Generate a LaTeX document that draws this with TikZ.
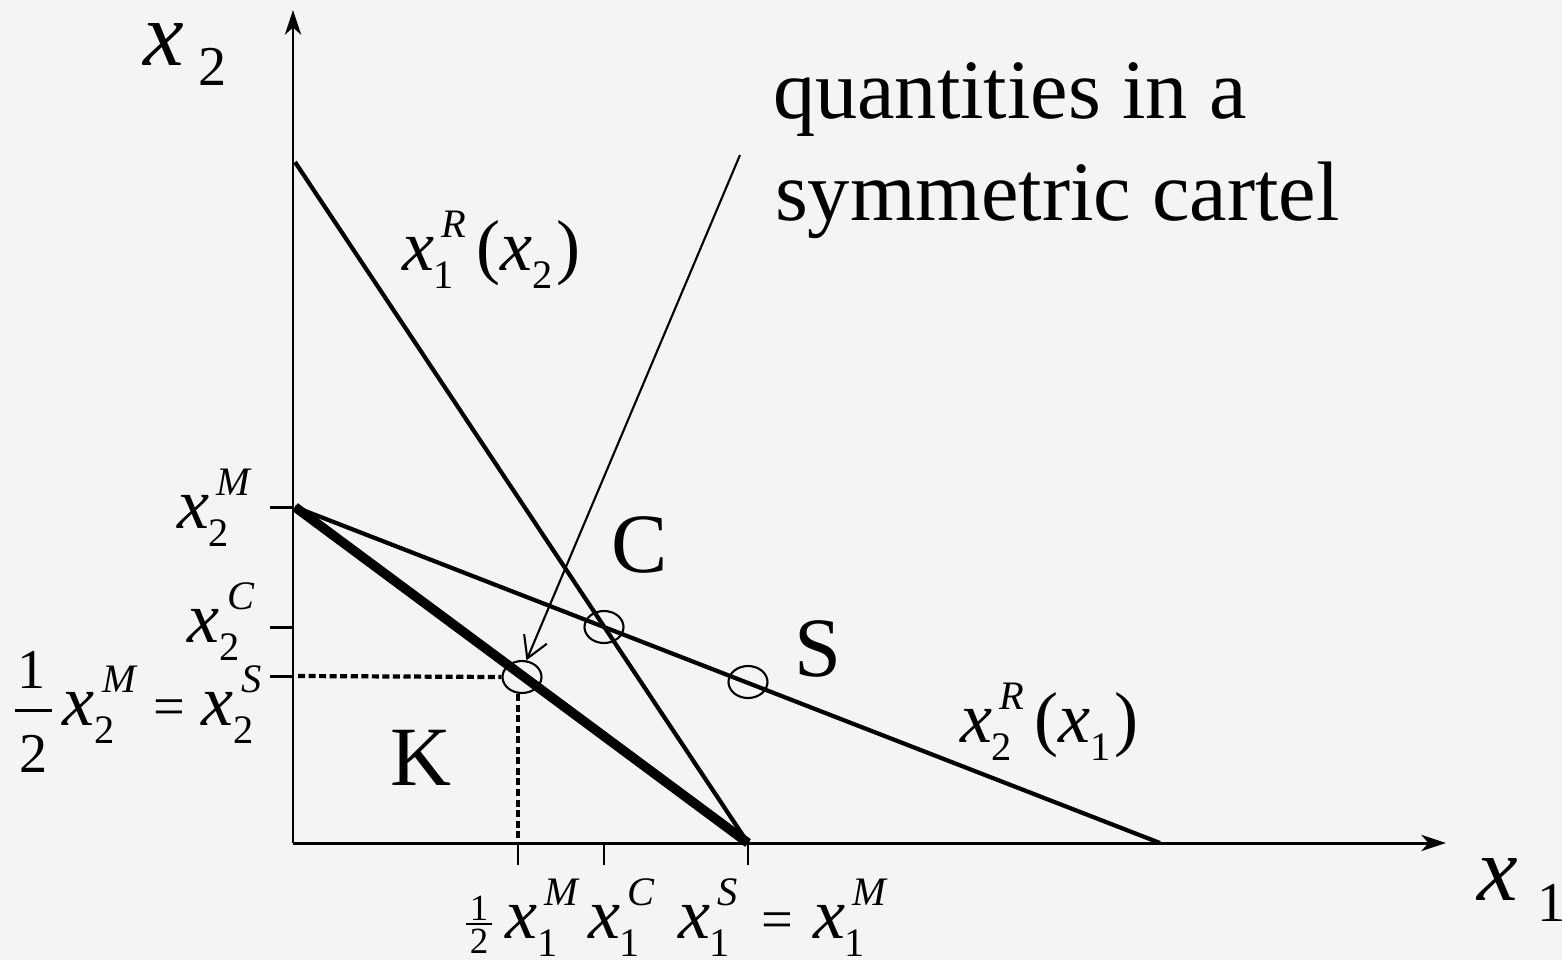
\documentclass[tikz,border=0pt]{standalone}
\usepackage{fontspec}
\setmainfont{Liberation Serif}
\usetikzlibrary{arrows.meta,shapes.geometric}
\definecolor{bg}{HTML}{F4F4F4}
\newlength\pxu
\setlength\pxu{0.01cm}
\newcommand\sscr{\fontsize{11.5}{12}\selectfont}
\newcommand\xs[2]{\textit{x}\ooalign{\raisebox{0.45em}{\kern0.1em\sscr\textit{#2}}\cr\raisebox{-0.26em}{\sscr #1}\cr}}
\tikzset{
  lbl/.style={inner sep=0pt, outer sep=0pt, anchor=base west, font=\fontsize{20.5}{24}\selectfont},
  big/.style={inner sep=0pt, outer sep=0pt, anchor=base west, font=\fontsize{24}{28}\selectfont},
  axisline/.style={line width=0.85pt, -{Stealth[length=7pt, width=4.6pt, inset=2pt]}},
  curve/.style={line width=1.2pt},
  thickcurve/.style={line width=2.7pt},
  tickline/.style={line width=0.85pt},
  dots/.style={line width=1.2pt, dash pattern=on 2pt off 1pt},
  ptmark/.style={draw, ellipse, line width=0.6pt, minimum width=39\pxu, minimum height=32\pxu, inner sep=0pt},
}
\begin{document}
\begin{tikzpicture}[x=0.01cm, y=-0.01cm]
\fill[bg] (0,0) rectangle (1562,960);
\useasboundingbox (0,0) rectangle (1562,960);
% coordinates
\coordinate (O) at (293,843);
\coordinate (ytop) at (293,10);
\coordinate (xend) at (1446,843);
\coordinate (A) at (295,162);
\coordinate (B) at (748,843);
\coordinate (M2) at (295,507);
\coordinate (E) at (1160,843);
\coordinate (arrS) at (740,155);
% axes
\draw[axisline] (O) -- (ytop);
\draw[axisline] (O) -- (xend);
% ticks
\coordinate (ty1) at (293,507); \coordinate (ty1l) at (270,507);
\coordinate (ty2) at (293,627); \coordinate (ty2l) at (270,627);
\coordinate (ty3) at (293,676); \coordinate (ty3l) at (270,676);
\coordinate (tx1) at (518,843); \coordinate (tx1b) at (518,865);
\coordinate (tx2) at (604,843); \coordinate (tx2b) at (604,865);
\coordinate (tx3) at (748,843); \coordinate (tx3b) at (748,865);
\draw[tickline] (ty1l) -- (ty1);
\draw[tickline] (ty2l) -- (ty2);
\draw[tickline] (ty3l) -- (ty3);
\draw[tickline] (tx1) -- (tx1b);
\draw[tickline] (tx2) -- (tx2b);
\draw[tickline] (tx3) -- (tx3b);
% reaction curves
\draw[curve] (A) -- (B);
\draw[curve] (M2) -- (E);
\draw[thickcurve] (M2) -- (B);
% markers
\node[ptmark] (Cpt) at (604,627) {};
\node[ptmark] (Kpt) at (522,677) {};
\node[ptmark] (Spt) at (748,682) {};
% dotted
\coordinate (dh0) at (298,676);
\coordinate (dv0) at (518,843);
\draw[dots] (dh0) -- (Kpt.west);
\draw[dots] (Kpt.south -| dv0) -- (dv0);
% arrow to cartel point
\draw[line width=0.6pt, -{Straight Barb[length=6pt, width=7pt]}] (arrS) -- (Kpt.75);
% axis labels
\node[inner sep=0pt, anchor=base west, font=\fontsize{26}{28}\selectfont\itshape] (x2a) at (143,65) {x};
\node[inner sep=0pt, anchor=base west, font=\fontsize{16}{18}\selectfont] (x2b) at (198,85) {2};
\node[inner sep=0pt, anchor=base west, font=\fontsize{26}{28}\selectfont\itshape] (x1a) at (1477,900) {x};
\node[inner sep=0pt, anchor=base west, font=\fontsize{16}{18}\selectfont] (x1b) at (1537,921) {1};
% text
\node[big] (q1) at (773,118) {quantities in a};
\node[big] (q2) at (775,220) {symmetric cartel};
\node[big, anchor=base] (Ct) at (640,572) {C};
\node[big, anchor=base] (St) at (818,676) {S};
\node[big, anchor=base] (Kt) at (421,785) {K};
% curve labels
\node[lbl] (r1) at (402,270) {\xs{1}{R}\kern3pt(\xs{2}{}\kern1pt)};
\node[lbl] (r2) at (960,742) {\xs{2}{R}\kern3pt(\xs{1}{}\kern1pt)};
% y tick labels
\node[lbl] (ym) at (177,528) {\xs{2}{M}};
\node[lbl] (yc) at (188,642) {\xs{2}{C}};
\node[inner sep=0pt, anchor=base, font=\fontsize{16}{18}\selectfont] (f1) at (32,688) {1};
\node[inner sep=0pt, anchor=base, font=\fontsize{16}{18}\selectfont] (f2) at (34,772) {2};
\draw[line width=0.85pt] (15,710) -- (52,710);
\node[lbl] (ym2) at (63,725) {\xs{2}{M}};
\node[inner sep=0pt, anchor=base, font=\fontsize{16}{18}\selectfont] (yeq) at (169,725) {=};
\node[lbl] (ys) at (202,725) {\xs{2}{S}};
% x tick labels
\node[inner sep=0pt, anchor=base, font=\fontsize{10.5}{12}\selectfont] (h1) at (479,920) {1};
\node[inner sep=0pt, anchor=base, font=\fontsize{10.5}{12}\selectfont] (h2) at (479,953) {2};
\draw[line width=0.6pt] (466,924) -- (492,924);
\node[lbl] (xm) at (505,938) {\xs{1}{M}};
\node[lbl] (xc) at (588,938) {\xs{1}{C}};
\node[lbl] (xsl) at (678,938) {\xs{1}{S}};
\node[inner sep=0pt, anchor=base, font=\fontsize{16}{18}\selectfont] (xeq) at (777,938) {=};
\node[lbl] (xm2) at (813,938) {\xs{1}{M}};
\end{tikzpicture}
\end{document}
